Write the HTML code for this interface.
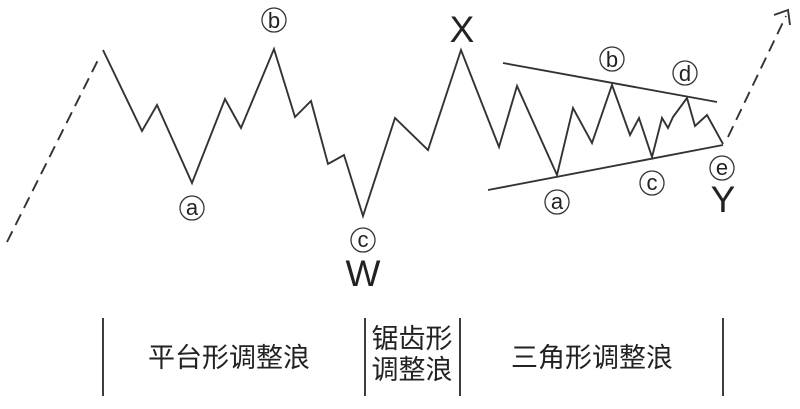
<!DOCTYPE html>
<html><head><meta charset="utf-8"><style>
html,body{margin:0;padding:0;background:#fff;}
svg{display:block;}
text{font-family:"Liberation Sans","Noto Sans CJK SC",sans-serif;fill:#222;}
</style></head><body>
<svg width="800" height="409" viewBox="0 0 800 409" xmlns="http://www.w3.org/2000/svg">
<g fill="none" stroke="#333" stroke-width="1.9" stroke-linejoin="miter">
<line x1="7" y1="242" x2="98" y2="60" stroke-dasharray="12,7"/>
<polyline points="103,50 142,131 157,105 192,183 225,99 241,128 274,49 295,117 311,101 328,164 344,155 363,216 395,118 428,150 461,50 499,147 517,86 557,175 573,108 592,143 612,85 630,135 639,118 652,157 662,118 668,128 673,117 687,98 695,126 707,115 723,144"/>
<line x1="503" y1="63" x2="717" y2="102"/>
<line x1="488" y1="190" x2="723" y2="145"/>
<line x1="728" y1="137" x2="786" y2="16" stroke-dasharray="12,7"/>
<polyline points="774,15 788,10 790,25"/>
<line x1="103" y1="318" x2="103" y2="396"/>
<line x1="365" y1="318" x2="365" y2="396"/>
<line x1="460" y1="318" x2="460" y2="396"/>
<line x1="723" y1="318" x2="723" y2="396"/>
<g stroke-width="1.3">
<circle cx="274" cy="20" r="12"/>
<circle cx="192" cy="208" r="12"/>
<circle cx="363" cy="240" r="12"/>
<circle cx="612" cy="59" r="12"/>
<circle cx="685" cy="73" r="12"/>
<circle cx="557" cy="202" r="12"/>
<circle cx="652" cy="183" r="12"/>
<circle cx="722" cy="168" r="12"/>
</g>
</g>
<g font-size="22" text-anchor="middle">
<text x="274" y="28">b</text>
<text x="192" y="215">a</text>
<text x="363" y="247">c</text>
<text x="612" y="67">b</text>
<text x="685" y="81">d</text>
<text x="557" y="209">a</text>
<text x="652" y="190">c</text>
<text x="722" y="175">e</text>
</g>
<g font-size="37" text-anchor="middle">
<text x="462" y="42">X</text>
<text x="363" y="286">W</text>
<text x="723" y="212">Y</text>
</g>
<g font-size="27" text-anchor="middle">
<text x="229" y="367">平台形调整浪</text>
<text x="412" y="348">锯齿形</text>
<text x="412" y="379">调整浪</text>
<text x="592" y="367">三角形调整浪</text>
</g>
</svg>
</body></html>
